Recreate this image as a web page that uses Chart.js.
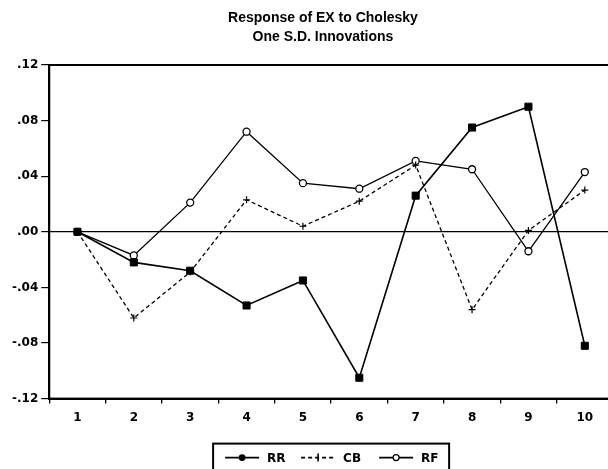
<!DOCTYPE html>
<html>
<head>
<meta charset="utf-8">
<script src="https://cdn.jsdelivr.net/npm/chart.js@4.4.1/dist/chart.umd.min.js"></script>
<style>
  html, body { margin: 0; padding: 0; background: #fff; overflow: hidden; }
  #wrap { width: 644px; height: 469px; }
</style>
</head>
<body>
<div id="wrap"><canvas id="irfChart"></canvas></div>
<script>
// --- data ---
const periods = ['1', '2', '3', '4', '5', '6', '7', '8', '9', '10'];
const rrValues = [0, -0.022, -0.028, -0.053, -0.035, -0.105, 0.026, 0.075, 0.090, -0.082];
const cbValues = [0, -0.062, -0.029, 0.023, 0.004, 0.022, 0.048, -0.056, 0.001, 0.030];
const rfValues = [0, -0.017, 0.021, 0.072, 0.035, 0.031, 0.051, 0.045, -0.014, 0.043];
const yTicks = [-0.12, -0.08, -0.04, 0.00, 0.04, 0.08, 0.12];
const titleLines = ['Response of EX to Cholesky', 'One S.D. Innovations'];
const legendNames = ['RR', 'CB', 'RF'];

const FONT = '"Liberation Sans", Arial, Helvetica, sans-serif';
const TICK_FONT = '"DejaVu Sans", Verdana, sans-serif';

function fmtTick(v) {
    const s = (Math.round(v * 100) / 100).toFixed(2);
    return s.replace('0.', '.');
}

// two-line title, centred on the page (not on the plot)
const titlePlugin = {
    id: 'pageTitle',
    afterDraw(chart) {
        const { ctx } = chart;
        ctx.save();
        ctx.font = 'bold 14px ' + FONT;
        ctx.fillStyle = '#000';
        ctx.textAlign = 'center';
        ctx.textBaseline = 'middle';
        titleLines.forEach((line, i) => ctx.fillText(line, 323, 18 + i * 19));
        ctx.restore();
    }
};

// frame around the plot area
const framePlugin = {
    id: 'frame',
    afterDatasetsDraw(chart) {
        const { ctx, chartArea: a } = chart;
        ctx.save();
        ctx.strokeStyle = '#000';
        ctx.lineWidth = 2;
        ctx.strokeRect(a.left, a.top, a.right - a.left, a.bottom - a.top);
        ctx.restore();
    }
};

// boxed legend under the axis, line + marker samples like the original
const boxLegendPlugin = {
    id: 'boxLegend',
    afterDraw(chart) {
        const { ctx, chartArea: a } = chart;
        const boxW = 236;
        const left = (a.left + a.right) / 2 - boxW / 2;
        const top = a.bottom + 45;
        const midY = top + 14;
        ctx.save();
        ctx.strokeStyle = '#000';
        ctx.lineWidth = 2;
        ctx.strokeRect(left, top, boxW, 40);

        const samples = [
            { x: 12, dash: [], marker: 'dot' },
            { x: 88, dash: [4, 3], marker: 'plus' },
            { x: 166, dash: [], marker: 'ring' }
        ];
        ctx.font = 'bold 12px ' + TICK_FONT;
        ctx.textBaseline = 'middle';
        ctx.fillStyle = '#000';
        samples.forEach((s, i) => {
            const x0 = left + s.x;
            ctx.lineWidth = 1.6;
            ctx.setLineDash(s.dash);
            ctx.beginPath();
            ctx.moveTo(x0, midY);
            ctx.lineTo(x0 + 34, midY);
            ctx.stroke();
            ctx.setLineDash([]);
            const cx = x0 + 17;
            if (s.marker === 'dot') {
                ctx.beginPath();
                ctx.arc(cx, midY, 3.4, 0, Math.PI * 2);
                ctx.fill();
            } else if (s.marker === 'plus') {
                ctx.beginPath();
                ctx.moveTo(cx, midY - 4);
                ctx.lineTo(cx, midY + 4);
                ctx.stroke();
            } else {
                ctx.beginPath();
                ctx.arc(cx, midY, 3, 0, Math.PI * 2);
                ctx.fillStyle = '#fff';
                ctx.fill();
                ctx.lineWidth = 1.3;
                ctx.stroke();
                ctx.fillStyle = '#000';
            }
            ctx.fillText(legendNames[i], x0 + 42, midY + 1);
        });
        ctx.restore();
    }
};

const irfCtx = document.getElementById('irfChart')?.getContext('2d');
let irfChart;

if (irfCtx) {
    irfChart = new Chart(irfCtx, {
        type: 'line',
        data: {
            labels: periods,
            datasets: [{
                label: legendNames[0],
                data: rrValues,
                borderColor: '#000',
                backgroundColor: '#000',
                borderWidth: 1.6,
                pointStyle: 'rect',
                pointRadius: 5,
                pointBorderWidth: 1,
                tension: 0,
                fill: false
            }, {
                label: legendNames[1],
                data: cbValues,
                borderColor: '#000',
                backgroundColor: '#000',
                borderWidth: 1.3,
                borderDash: [4, 3],
                pointStyle: 'cross',
                pointRadius: 3.5,
                pointBorderWidth: 1.2,
                tension: 0,
                fill: false
            }, {
                label: legendNames[2],
                data: rfValues,
                borderColor: '#000',
                backgroundColor: '#fff',
                borderWidth: 1.3,
                pointStyle: 'circle',
                pointRadius: 3.5,
                pointBorderWidth: 1.3,
                tension: 0,
                fill: false
            }]
        },
        options: {
            responsive: true,
            maintainAspectRatio: false,
            animation: false,
            layout: {
                padding: { left: 9, right: 31, top: 65, bottom: 37 }
            },
            plugins: {
                legend: { display: false },
                tooltip: { enabled: false },
                title: { display: false }
            },
            scales: {
                x: {
                    offset: true,
                    grid: {
                        offset: true,
                        drawOnChartArea: false,
                        color: '#000',
                        tickLength: 5,
                        lineWidth: 1.3
                    },
                    border: { color: '#000', width: 2 },
                    ticks: {
                        color: '#000',
                        padding: 7,
                        maxRotation: 0,
                        font: { family: TICK_FONT, size: 12, weight: 'bold' }
                    }
                },
                y: {
                    min: -0.12,
                    max: 0.12,
                    afterBuildTicks(axis) {
                        axis.ticks = yTicks.map(v => ({ value: v }));
                    },
                    grid: {
                        color: ctx => (ctx.tick && Math.abs(ctx.tick.value) < 1e-9 ? '#000' : 'rgba(0,0,0,0)'),
                        tickColor: '#000',
                        tickLength: 8,
                        lineWidth: 1.2
                    },
                    border: { color: '#000', width: 2 },
                    ticks: {
                        color: '#000',
                        padding: 3,
                        font: { family: TICK_FONT, size: 12, weight: 'bold' },
                        callback: v => fmtTick(v)
                    }
                }
            }
        },
        plugins: [framePlugin, titlePlugin, boxLegendPlugin]
    });
} else {
    console.warn("Chart context not found, likely missing element with id 'irfChart'.");
}
</script>
</body>
</html>
